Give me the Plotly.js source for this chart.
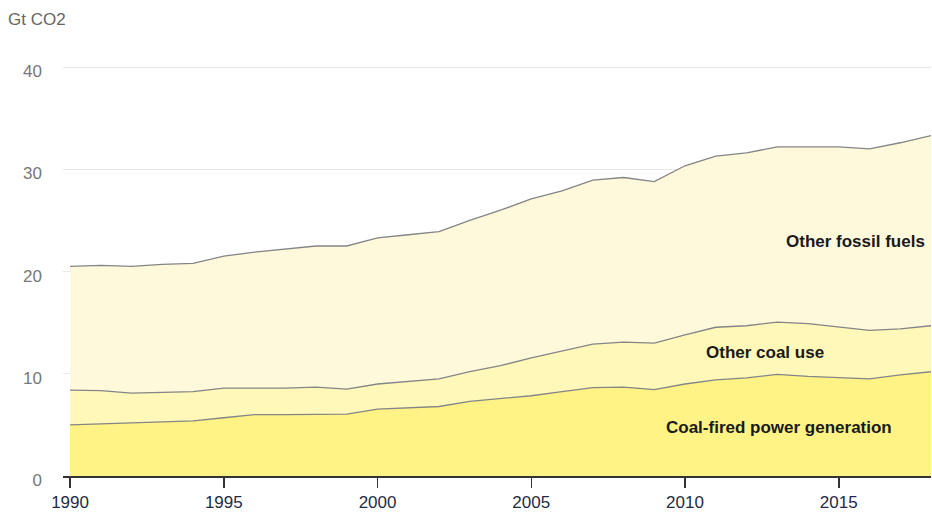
<!DOCTYPE html>
<html>
<head>
<meta charset="utf-8">
<script src="https://cdn.plot.ly/plotly-3.0.1.min.js"></script>
<style>html,body{margin:0;padding:0;background:#fff}#chart{width:932px;height:512px}</style>
</head>
<body>
<div id="chart"></div>
<script>
const years = [1990,1991,1992,1993,1994,1995,1996,1997,1998,1999,2000,2001,2002,2003,2004,2005,2006,2007,2008,2009,2010,2011,2012,2013,2014,2015,2016,2017,2018];
const coalPower = [5.0,5.1,5.2,5.3,5.4,5.7,6.0,6.0,6.0,6.05,6.55,6.65,6.8,7.3,7.55,7.85,8.25,8.65,8.7,8.45,9.0,9.4,9.6,9.95,9.75,9.6,9.5,9.9,10.2];
const otherCoal = [3.4,3.25,2.9,2.9,2.85,2.9,2.6,2.6,2.7,2.45,2.45,2.6,2.7,2.9,3.25,3.7,3.95,4.25,4.4,4.55,4.8,5.15,5.1,5.1,5.15,5.0,4.75,4.5,4.5];
const otherFossil = [12.1,12.25,12.4,12.5,12.55,12.9,13.3,13.6,13.8,14.0,14.3,14.35,14.4,14.8,15.2,15.55,15.7,16.05,16.1,15.8,16.55,16.75,16.9,17.15,17.3,17.6,17.75,18.2,18.6];
const seriesNames = ["Coal-fired power generation","Other coal use","Other fossil fuels"];
const seriesColors = ["#fff385","#fff8b8","#fff9dc"];
const yTicks = [0,10,20,30,40];
const xTicks = [1990,1995,2000,2005,2010,2015];
// label anchor points (year, value) inside each band
const labelX = [2013.06, 2012.6, 2015.53];
const labelY = [4.74, 12.07, 22.9];

const values = [coalPower, otherCoal, otherFossil];
const traces = values.map((v,i)=>({
  x: years, y: v, type:'scatter', mode:'lines', stackgroup:'one',
  name: seriesNames[i], fillcolor: seriesColors[i],
  line:{color:'#858585', width:1.3}, hoverinfo:'skip'
}));

const font = 'Liberation Sans, Arial, sans-serif';
const annotations = seriesNames.map((n,i)=>({
  x:labelX[i], y:labelY[i], xref:'x', yref:'y', text:'<b>'+n+'</b>', showarrow:false,
  font:{family:font, size:17, color:'#1a1a1a'}
}));
annotations.push({x:0, y:1, xref:'paper', yref:'paper', xanchor:'left', yanchor:'middle', xshift:-57, yshift:43,
  text:'Gt CO2', showarrow:false, font:{family:font, size:17, color:'#666'}});

const layout = {
  width:932, height:512,
  margin:{l:63, r:1, t:62, b:36},
  paper_bgcolor:'#fff', plot_bgcolor:'#fff',
  showlegend:false,
  xaxis:{range:[1989.77,2018], tickvals:xTicks, ticktext:xTicks.map(String), ticks:'outside', ticklen:10, tickwidth:1.5, tickcolor:'#333',
    showline:true, linecolor:'#333', linewidth:1.5, showgrid:false, zeroline:false,
    tickfont:{family:font, size:17, color:'#1e2b44'}},
  yaxis:{range:[0,40.5], tickvals:yTicks, ticktext:yTicks.map(String), showgrid:true, gridcolor:'#e8e8e8', gridwidth:1, zeroline:false,
    ticks:'', ticklabelstandoff:20, ticklabelshift:4, showline:false,
    tickfont:{family:font, size:17, color:'#777'}},
  annotations: annotations
};
Plotly.newPlot('chart', traces, layout, {displayModeBar:false, staticPlot:true});
</script>
</body>
</html>
